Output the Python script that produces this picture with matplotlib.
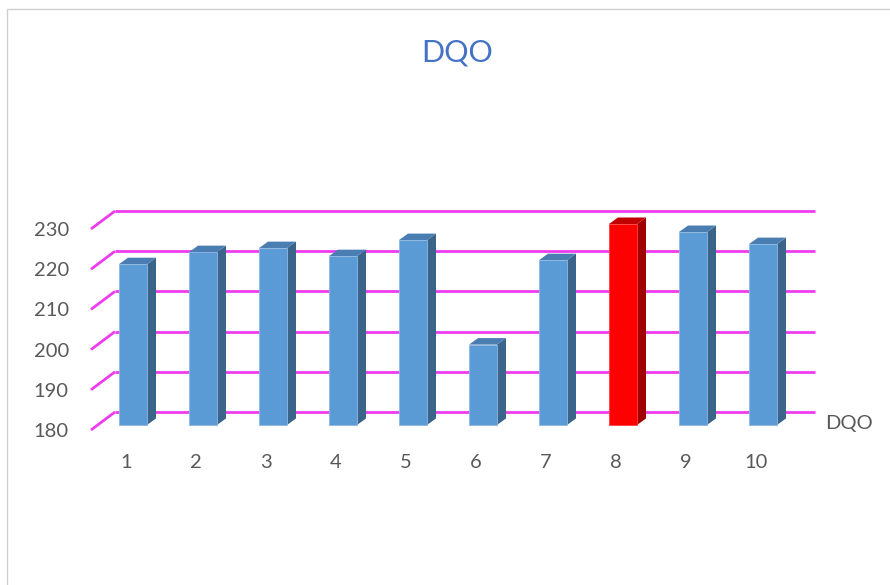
import matplotlib
matplotlib.use("Agg")
import matplotlib.pyplot as plt
from matplotlib.patches import Polygon, Rectangle
from matplotlib.transforms import ScaledTranslation

plt.rcParams['font.family'] = ['Lato', 'DejaVu Sans']

# Data
categories = ['1', '2', '3', '4', '5', '6', '7', '8', '9', '10']
dqo_values = [220, 223, 224, 222, 226, 200, 221, 230, 228, 225]
highlight = '8'
y_ticks = [180, 190, 200, 210, 220, 230]
series_name = 'DQO'

W, H, DPI = 890, 585, 100
fig = plt.figure(figsize=(W / DPI, H / DPI), dpi=DPI)

# front plane of the 3-D box
ax = fig.add_axes([91 / W, (H - 430) / H, 700 / W, 201 / H])
ax.set_xlim(0.5, len(categories) + 0.5)
ax.set_ylim(y_ticks[0], y_ticks[-1])
for s in ax.spines.values():
    s.set_visible(False)
ax.patch.set_alpha(0)

def shift(dx_px, dy_px):
    return ax.transData + ScaledTranslation(dx_px / DPI, dy_px / DPI, fig.dpi_scale_trans)

# pixel scale of the data units
x_px = 700 / len(categories)
y_px = 201 / (y_ticks[-1] - y_ticks[0])

grid_color = '#EE3BEE'
wall_dx, wall_dy = 24, 18

# back-wall gridlines and side-wall strokes
ax.hlines(y_ticks, 0.5, len(categories) + 0.5, colors=grid_color, lw=2,
          transform=shift(wall_dx, wall_dy), zorder=1, clip_on=False)
for t in y_ticks:
    ax.plot([0.5, 0.5 + wall_dx / x_px], [t, t + wall_dy / y_px],
            color=grid_color, lw=2, zorder=1, clip_on=False, solid_capstyle='butt')

# 3-D columns
bar_w = 0.4
front_dx, front_dy = 7, 5
depth_dx, depth_dy = 9 / x_px, 6.5 / y_px
base = y_ticks[0]
face_tr = shift(front_dx, front_dy)
for i, (cat, v) in enumerate(zip(categories, dqo_values)):
    x = i + 1
    if cat == highlight:
        front, side, top = '#FF0000', '#A00000', '#C00000'
    else:
        front, side, top = '#5B9BD5', '#3A6489', '#4A7DB1'
    x0, x1 = x - bar_w / 2, x + bar_w / 2
    ax.add_patch(Polygon([(x1, base), (x1 + depth_dx, base + depth_dy),
                          (x1 + depth_dx, v + depth_dy), (x1, v)],
                         closed=True, facecolor=side, edgecolor='none',
                         transform=face_tr, zorder=3, clip_on=False))
    ax.add_patch(Polygon([(x0, v), (x0 + depth_dx, v + depth_dy),
                          (x1 + depth_dx, v + depth_dy), (x1, v)],
                         closed=True, facecolor=top, edgecolor='none',
                         transform=face_tr, zorder=3, clip_on=False))
    ax.bar(x, v - base, bottom=base, width=bar_w, color=front,
           edgecolor='#8DB8E2' if cat != highlight else '#FF4040', linewidth=0.6,
           transform=face_tr, zorder=4, clip_on=False)

# axis labels
label_color = '#595959'
ax.set_yticks(y_ticks)
ax.set_yticklabels([str(t) for t in y_ticks])
ax.set_xticks(range(1, len(categories) + 1))
ax.set_xticklabels(categories)
ax.tick_params(axis='y', length=0, pad=16, labelsize=14.5, labelcolor=label_color)
ax.tick_params(axis='x', length=0, pad=17.5, labelsize=14.5, labelcolor=label_color)

# series label
fig.text(825 / W, 1 - 423 / H, series_name, ha='left', va='center',
         fontsize=14.5, color=label_color)

# title
fig.text(457 / W, 1 - 52 / H, 'DQO', ha='center', va='center',
         fontsize=22, color='#4472C4')

# chart-area border
fig.patches.append(Rectangle((6.5 / W, -0.1), 1.2, 1.1 - 9.5 / H,
                             transform=fig.transFigure, fill=False,
                             edgecolor='#D0D0D0', lw=1))

fig.savefig('out.png', dpi=DPI, facecolor='white')
